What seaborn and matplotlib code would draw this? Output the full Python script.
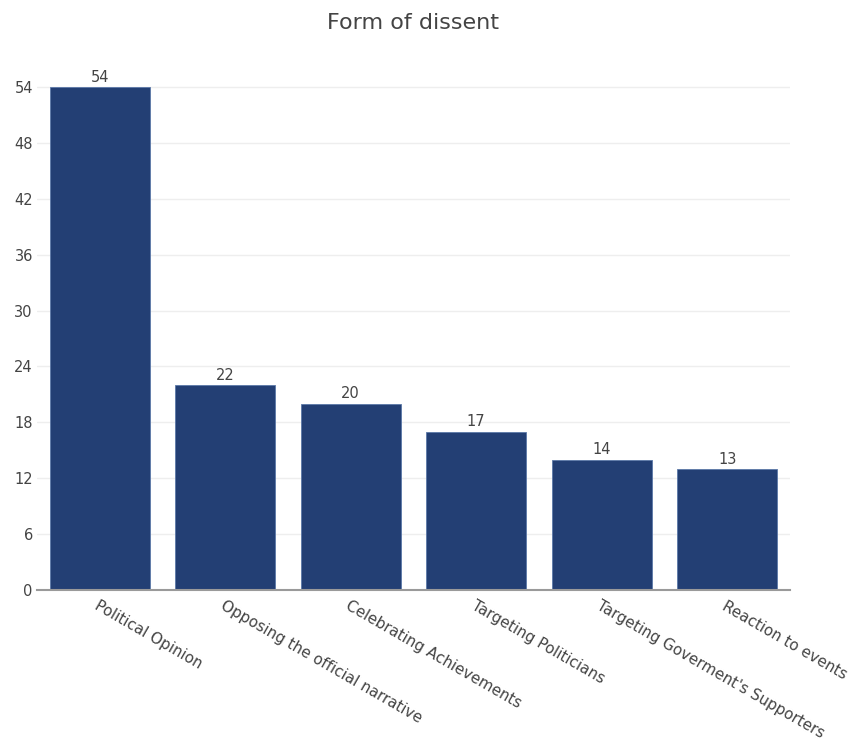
import matplotlib
matplotlib.use("Agg")
import matplotlib.pyplot as plt
import seaborn as sns
import pandas as pd

categories = [
    "Political Opinion",
    "Opposing the official narrative",
    "Celebrating Achievements",
    "Targeting Politicians",
    "Targeting Goverment's Supporters",
    "Reaction to events",
]
counts = [54, 22, 20, 17, 14, 13]
y_ticks = [0, 6, 12, 18, 24, 30, 36, 42, 48, 54]

df = pd.DataFrame({"form": categories, "count": counts})

sns.set_theme(style="white")
plt.rcParams["font.family"] = ["DejaVu Sans"]

W, H = 859, 744
fig = plt.figure(figsize=(W / 100, H / 100), dpi=100)
ax = fig.add_axes([37 / W, 1 - 590 / H, 753 / W, (590 - 61) / H])

bar_color = "#233f74"
sns.barplot(data=df, x="form", y="count", color=bar_color, saturation=1,
            width=0.8, edgecolor="#5b78a8", linewidth=0.6, ax=ax, zorder=3)

ax.set_xlim(-0.5, len(categories) - 0.5)
ax.set_ylim(0, 56.8)
ax.set_yticks(y_ticks)
ax.yaxis.grid(True, color="#eeeeee", linewidth=1, zorder=0)
ax.set_axisbelow(True)

for side in ["left", "right", "top"]:
    ax.spines[side].set_visible(False)
ax.spines["bottom"].set_color("#9a9a9a")
ax.spines["bottom"].set_linewidth(1.5)
ax.spines["bottom"].set_zorder(4)

ax.tick_params(axis="both", length=0, colors="#444444", labelsize=10.5)
ax.tick_params(axis="y", pad=3)
ax.set_xticks(range(len(categories)))
ax.set_xticklabels(categories, rotation=-30, ha="left", va="top",
                   rotation_mode="anchor", color="#444444", fontsize=10.9)
ax.tick_params(axis="x", pad=6)

ax.set_xlabel("")
ax.set_ylabel("")

for i, v in enumerate(counts):
    ax.text(i, v + 0.25, str(v), ha="center", va="bottom",
            fontsize=10.5, color="#444444", zorder=5)

fig.text(413 / W, 1 - 23 / H, "Form of dissent", ha="center", va="center",
         fontsize=16, color="#444444")

fig.savefig("out.png", dpi=100, facecolor="white")
